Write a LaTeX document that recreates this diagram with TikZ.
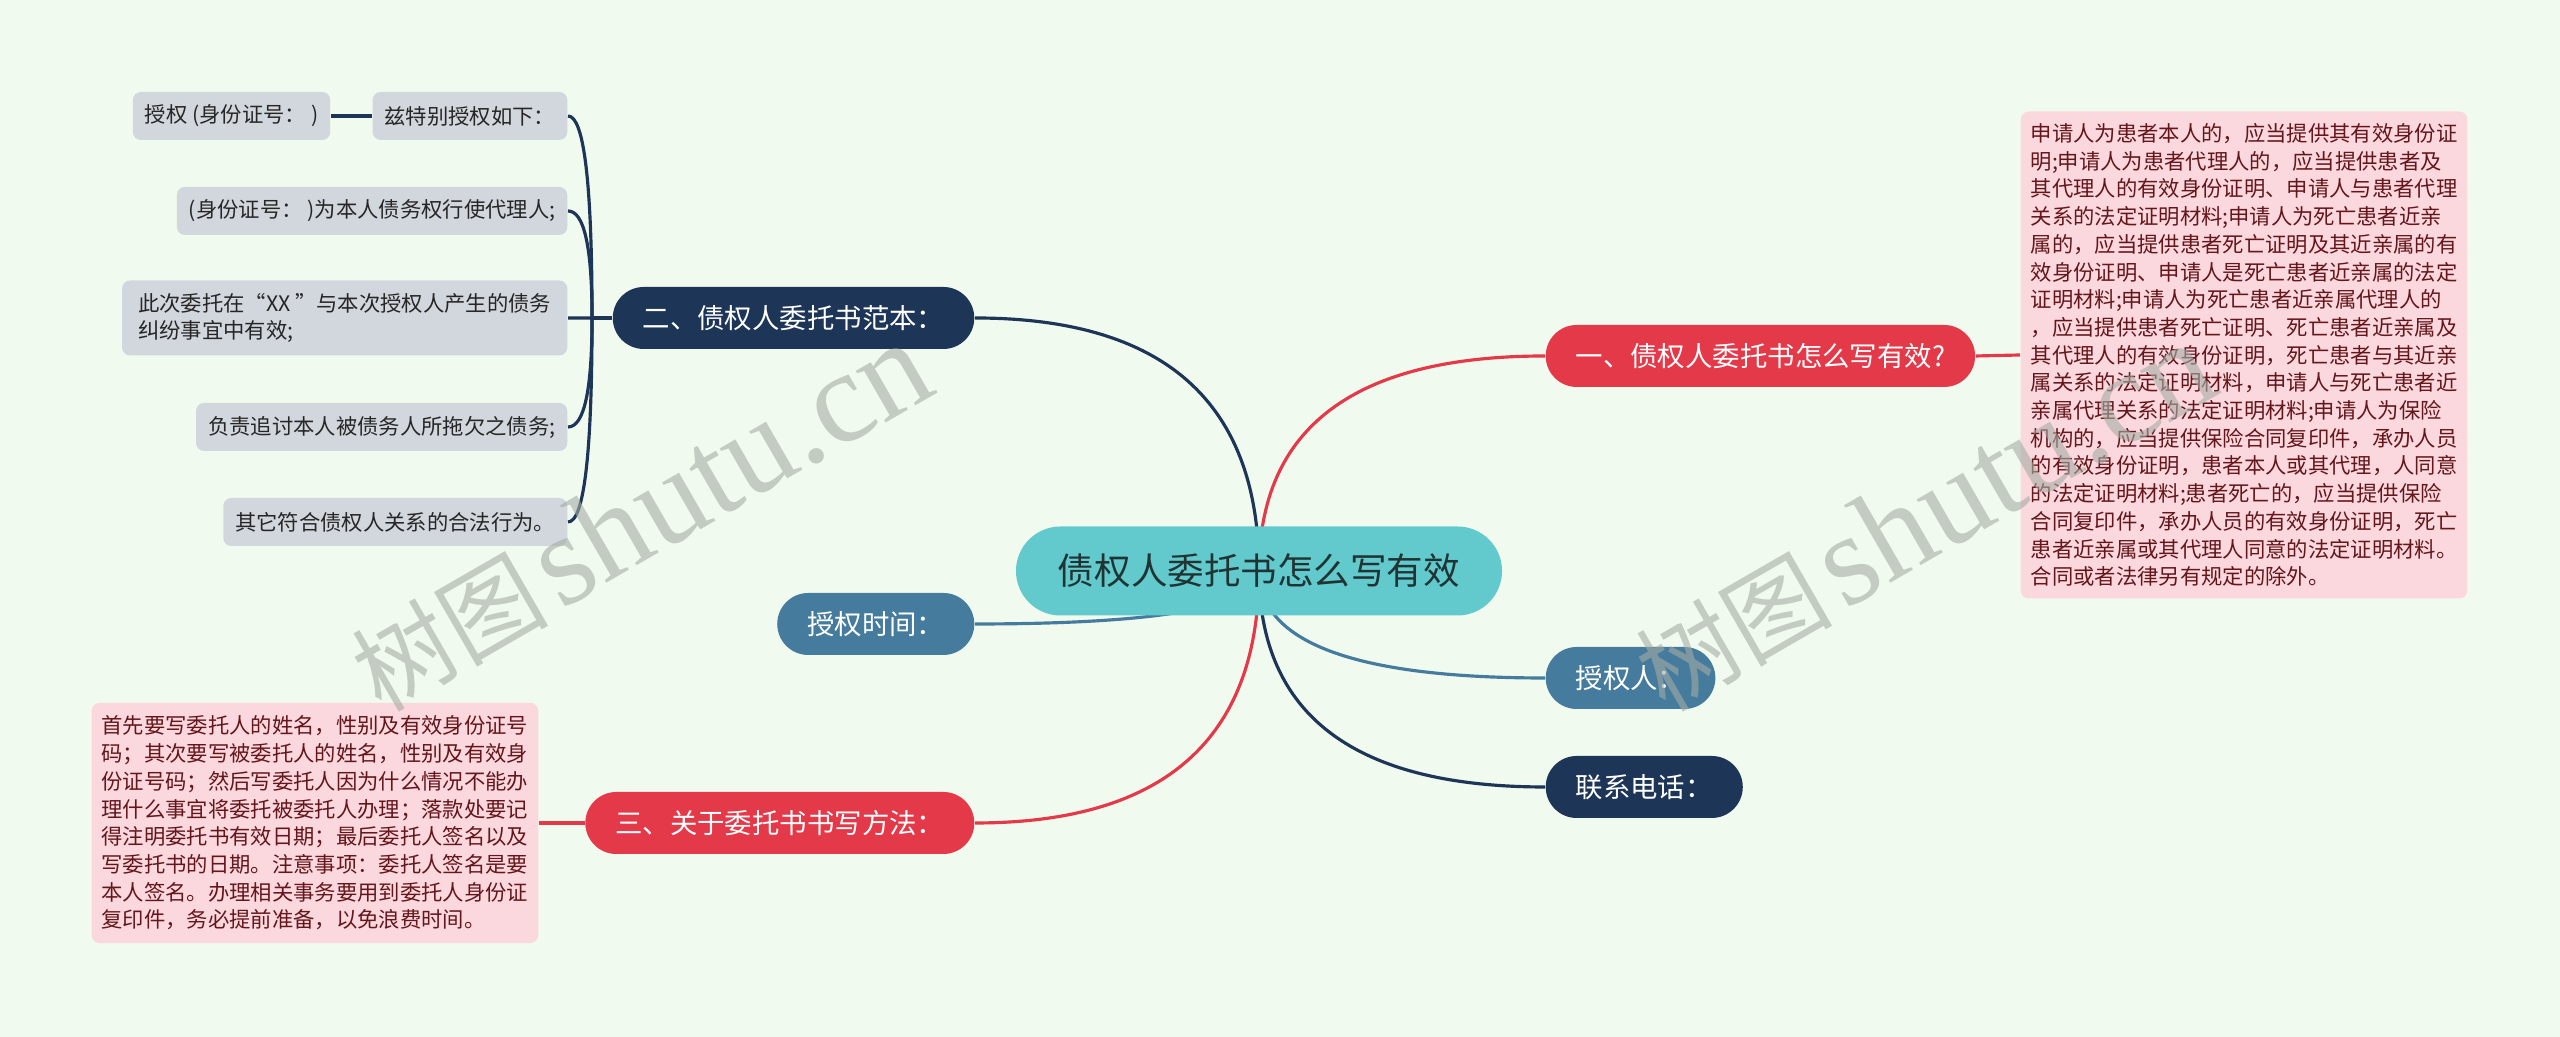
\documentclass[tikz,border=0pt]{standalone}
\usepackage{fontspec}
\setmainfont{Noto Sans CJK SC}
\newfontfamily\wmserif{Liberation Serif}
\definecolor{mmbg}{RGB}{241,250,238}
\definecolor{mmcyan}{RGB}{98,201,205}
\definecolor{mmred}{RGB}{228,57,72}
\definecolor{mmnavy}{RGB}{29,53,87}
\definecolor{mmsteel}{RGB}{69,123,157}
\definecolor{mmgray}{RGB}{210,215,222}
\definecolor{mmpink}{RGB}{250,216,221}
\definecolor{mmmaroon}{RGB}{100,22,28}
\definecolor{mmink}{RGB}{32,52,52}
\definecolor{mmmark}{RGB}{165,172,165}
\usetikzlibrary{positioning,calc}
\pgfdeclarelayer{back}
\pgfdeclarelayer{edges}
\pgfsetlayers{back,edges,main}

\begin{document}
\begin{tikzpicture}[
  rootnode/.style={fill=mmcyan, text=mmink, font=\fontsize{10.4}{12}\selectfont, rounded corners=0.445cm, minimum height=0.89cm, inner xsep=0.42cm},
  branch/.style={text=white, font=\fontsize{7.8}{9}\selectfont, rounded corners=0.31cm, minimum height=0.62cm, inner xsep=0.3cm},
  leaf/.style={fill=mmgray, text=black!85, font=\fontsize{6.07}{7.88}\selectfont, rounded corners=0.08cm, minimum height=0.48cm, inner xsep=0.12cm, align=left},
  memo/.style={fill=mmpink, text=mmmaroon, font=\fontsize{6.07}{7.88}\selectfont, rounded corners=0.08cm, inner xsep=0.1cm, inner ysep=0.12cm, align=left},
  link/.style={line width=0.9pt, to path={.. controls ($(\tikztostart)!0.667!(\tikztostart |- \tikztotarget)$) and ($(\tikztotarget)!0.667!(\tikztostart |- \tikztotarget)$) .. (\tikztotarget)}},
  watermark/.style={rotate=30, text=mmmark, opacity=0.6, inner sep=0pt}
]
  \useasboundingbox (0,0) rectangle (25.6,10.37);
  \begin{pgfonlayer}{back}
    \fill[mmbg] (0,0) rectangle (25.6,10.37);
  \end{pgfonlayer}

  \node[rootnode] (ctr) at (12.59,4.66) {债权人委托书怎么写有效};

  % main branches
  \node[branch, fill=mmred, anchor=west] (b1) at (15.45,6.81) {一、债权人委托书怎么写有效?};
  \node[branch, fill=mmnavy, anchor=east] (b2) at (9.75,7.19) {二、债权人委托书范本：};
  \node[branch, fill=mmsteel, anchor=east] (b4) at (9.75,4.13) {授权时间：};
  \node[branch, fill=mmred, anchor=east] (b3) at (9.75,2.14) {三、关于委托书书写方法：};
  \node[branch, fill=mmsteel, anchor=west] (b5) at (15.45,3.59) {授权人：};
  \node[branch, fill=mmnavy, anchor=west] (b6) at (15.45,2.50) {联系电话：};

  % sample items
  \node[leaf, anchor=east] (s1) at (5.68,9.21) {兹特别授权如下：};
  \node[leaf, left=0.41cm of s1] (s0) {授权 (身份证号： )};
  \node[leaf, anchor=east] (s2) at (5.68,8.26) {(身份证号： )为本人债务权行使代理人;};
  \node[leaf, anchor=east, minimum height=0.75cm, inner xsep=0.16cm] (s3) at (5.68,7.19) {此次委托在“XX ”与本次授权人产生的债务\\纠纷事宜中有效;};
  \node[leaf, anchor=east] (s4) at (5.68,6.10) {负责追讨本人被债务人所拖欠之债务;};
  \node[leaf, anchor=east] (s5) at (5.68,5.15) {其它符合债权人关系的合法行为。};

  % notes
  \node[memo, anchor=west] (n1) at (20.20,6.82) {申请人为患者本人的，应当提供其有效身份证\\
明;申请人为患者代理人的，应当提供患者及\\
其代理人的有效身份证明、申请人与患者代理\\
关系的法定证明材料;申请人为死亡患者近亲\\
属的，应当提供患者死亡证明及其近亲属的有\\
效身份证明、申请人是死亡患者近亲属的法定\\
证明材料;申请人为死亡患者近亲属代理人的\\
，应当提供患者死亡证明、死亡患者近亲属及\\
其代理人的有效身份证明，死亡患者与其近亲\\
属关系的法定证明材料，申请人与死亡患者近\\
亲属代理关系的法定证明材料;申请人为保险\\
机构的，应当提供保险合同复印件，承办人员\\
的有效身份证明，患者本人或其代理，人同意\\
的法定证明材料;患者死亡的，应当提供保险\\
合同复印件，承办人员的有效身份证明，死亡\\
患者近亲属或其代理人同意的法定证明材料。\\
合同或者法律另有规定的除外。};
  \node[memo, anchor=east, inner ysep=0.13cm] (n3) at (5.39,2.14) {首先要写委托人的姓名，性别及有效身份证号\\
码；其次要写被委托人的姓名，性别及有效身\\
份证号码；然后写委托人因为什么情况不能办\\
理什么事宜将委托被委托人办理；落款处要记\\
得注明委托书有效日期；最后委托人签名以及\\
写委托书的日期。注意事项：委托人签名是要\\
本人签名。办理相关事务要用到委托人身份证\\
复印件，务必提前准备，以免浪费时间。};

  \begin{pgfonlayer}{edges}
    \draw[link, mmred] (ctr.center) to (b1.west);
    \draw[link, mmnavy] (ctr.center) to (b2.east);
    \draw[link, mmsteel] (ctr.center) to (b4.east);
    \draw[link, mmred] (ctr.center) to (b3.east);
    \draw[link, mmsteel] (ctr.center) to (b5.west);
    \draw[link, mmnavy] (ctr.center) to (b6.west);

    \draw[line width=0.9pt, mmred] (b1.east) -- (n1.west);
    \draw[line width=0.9pt, mmred] (b3.west) -- (n3.east);

    \coordinate (j2) at ([xshift=-0.2cm]b2.west);
    \draw[line width=0.9pt, mmnavy] (b2.west) -- (j2);
    \foreach \s in {s1,s2,s3,s4,s5}
      \draw[link, mmnavy] (j2) to (\s.east);
    \draw[line width=0.9pt, mmnavy] (s1.west) -- (s0.east);
  \end{pgfonlayer}

  % watermarks
  \node[watermark] (wm1) at (6.40,5.20) {{\fontsize{28}{28}\selectfont 树图}\hspace{0.3em}{\wmserif\fontsize{37}{37}\selectfont shutu.cn}};
  \node[watermark] (wm2) at (19.24,5.20) {{\fontsize{28}{28}\selectfont 树图}\hspace{0.3em}{\wmserif\fontsize{37}{37}\selectfont shutu.cn}};
\end{tikzpicture}
\end{document}
